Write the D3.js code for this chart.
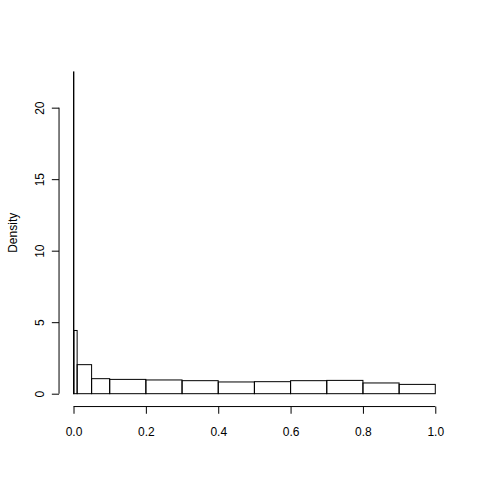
<!DOCTYPE html>
<meta charset="utf-8">
<script src="https://d3js.org/d3.v7.min.js"></script>
<style>
  body { margin: 0; background: #fff; }
  text { font-family: "Liberation Sans", Arial, sans-serif; font-size: 12px; fill: #000; }
</style>
<div id="chart"></div>
<script>

// histogram breaks (unequal widths) and the density of each bin
const breaks = [0, 0.001, 0.01, 0.05, 0.1, 0.2, 0.3, 0.4, 0.5, 0.6, 0.7, 0.8, 0.9, 1.0];
const densities = [22.5, 4.42, 2.03, 1.05, 1.0, 0.96, 0.91, 0.82, 0.84, 0.91, 0.93, 0.75, 0.65];
const xTicks = [0, 0.2, 0.4, 0.6, 0.8, 1.0];
const yTicks = [0, 5, 10, 15, 20];

const width = 480, height = 480;
// R default plot region for a 480x480 device
const plot = {left: 59.04, right: 449.76, top: 59.04, bottom: 406.56};

const ymax = d3.max(densities);

// r-style axes: 4% padding on each side
const x = d3.scaleLinear()
    .domain([-0.04, 1.04])
    .range([plot.left, plot.right]);

const y = d3.scaleLinear()
    .domain([-0.04 * ymax, 1.04 * ymax])
    .range([plot.bottom, plot.top]);

const svg = d3.select("#chart")
    .append("svg")
    .attr("width", width)
    .attr("height", height);

const bins = densities.map((d, i) => ({x0: breaks[i], x1: breaks[i + 1], d: d}));

svg.selectAll("rect.bar")
    .data(bins)
    .join("rect")
    .attr("class", "bar")
    .attr("x", d => x(d.x0))
    .attr("width", d => x(d.x1) - x(d.x0))
    .attr("y", d => y(d.d))
    .attr("height", d => y(0) - y(d.d))
    .attr("fill", "none")
    .attr("stroke", "#000")
    .attr("stroke-width", 1);

// x axis
const xAxis = svg.append("g")
    .attr("transform", `translate(0,${plot.bottom})`)
    .call(d3.axisBottom(x).tickValues(xTicks).tickFormat(d3.format(".1f")).tickSize(7.2).tickPadding(14));
xAxis.select(".domain").attr("d", `M${x(xTicks[0])},0H${x(xTicks[xTicks.length - 1])}`);
xAxis.selectAll("text").style("font-size", "12px").style("font-family", "Liberation Sans, Arial, sans-serif");

// y axis, labels turned like R
const yAxis = svg.append("g")
    .attr("transform", `translate(${plot.left},0)`)
    .call(d3.axisLeft(y).tickValues(yTicks).tickSize(7.2).tickPadding(6));
yAxis.select(".domain").attr("d", `M0,${y(yTicks[0])}V${y(yTicks[yTicks.length - 1])}`);
yAxis.selectAll(".tick text")
    .attr("x", null).attr("dy", null)
    .attr("text-anchor", "middle")
    .attr("transform", "translate(-15,0) rotate(-90)")
    .style("font-size", "12px")
    .style("font-family", "Liberation Sans, Arial, sans-serif");

svg.append("text")
    .attr("text-anchor", "middle")
    .attr("transform", `translate(17,${(plot.top + plot.bottom) / 2}) rotate(-90)`)
    .text("Density");

</script>
